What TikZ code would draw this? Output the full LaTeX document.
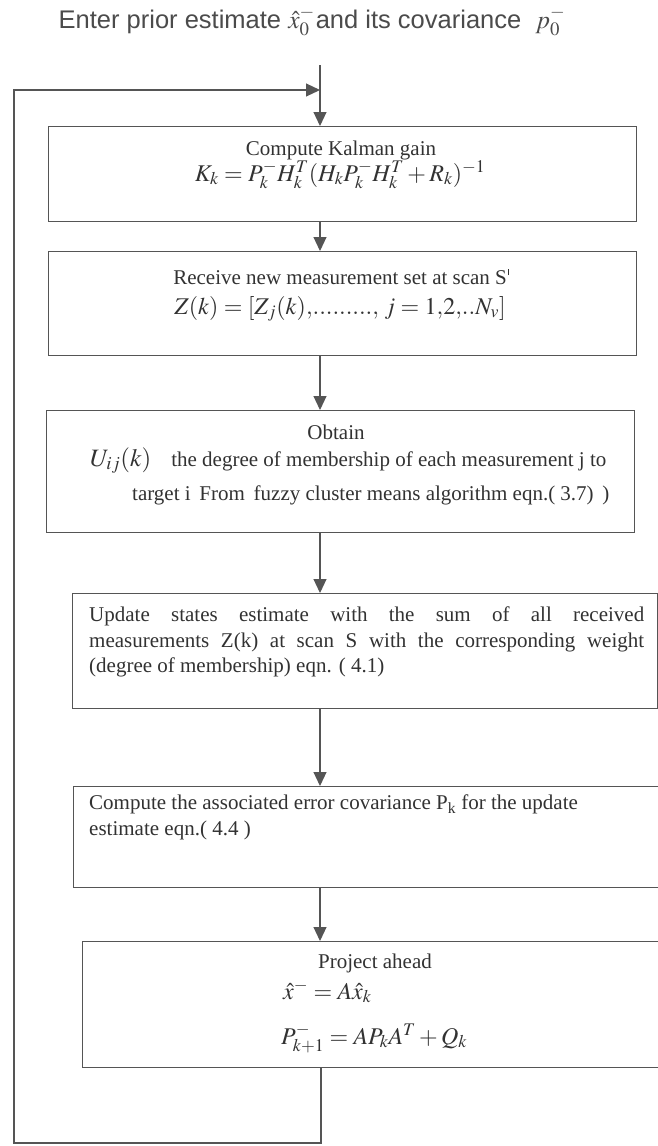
\documentclass[tikz,border=0pt]{standalone}
\usepackage{mathptmx}
\usepackage{fontspec}
\setmainfont{Liberation Serif}
\newfontfamily\arialf{Liberation Sans}
\usetikzlibrary{arrows.meta}
\definecolor{ln}{RGB}{85,85,85}
\definecolor{tx}{RGB}{50,50,50}
\definecolor{tt}{RGB}{75,75,75}
\begin{document}
\begin{tikzpicture}[x=1pt,y=-1pt,
  boxnode/.style={draw=ln,line width=1.2pt,rectangle,inner sep=0pt,anchor=north west},
  arr/.style={draw=ln,line width=1.1pt,-{Triangle[length=14pt,width=13pt]}},
  txt/.style={text=tx,inner sep=0pt,font=\fontsize{21}{25.5}\selectfont},
  mth/.style={text=tx,inner sep=0pt,font=\fontsize{24}{29}\selectfont},
  ttl/.style={text=tt,inner sep=0pt,font=\arialf\fontsize{25.5}{30}\selectfont}]
\fill[white] (0,0) rectangle (658,1146);
\useasboundingbox (0,0) rectangle (658,1146);

% title
\node[ttl,anchor=base] (title) at (312,28) {Enter prior estimate $\hat{x}_0^-$\kern1pt and its covariance\ \ $p_0^-$};

% boxes
\node[boxnode,minimum width=588pt,minimum height=95pt] (b1) at (48,126) {};
\node[boxnode,minimum width=588pt,minimum height=104pt] (b2) at (48,251) {};
\node[boxnode,minimum width=588pt,minimum height=122pt] (b3) at (46,410) {};
\node[boxnode,minimum width=585pt,minimum height=115pt] (b4) at (72,593) {};
\node[boxnode,minimum width=600pt,minimum height=101pt] (b5) at (73,786) {};
\node[boxnode,minimum width=600pt,minimum height=126pt] (b6) at (82,941) {};

% box 1
\node[txt,anchor=base] (t1a) at (341,155) {Compute Kalman gain};
\node[mth,anchor=base] (t1b) at (340,181) {$K_k = P_k^- H_k^T (H_k P_k^- H_k^T + R_k)^{-1}$};

% box 2
\node[txt,anchor=base] (t2a) at (341,284) {Receive new measurement set at scan S\kern1pt\rule[9pt]{0.8pt}{6pt}};
\node[mth,anchor=base] (t2b) at (340,314) {$Z(k) = [Z_j(k){,}.........{,}\; j = 1{,}2{,}..N_v]$};

% box 3
\node[txt,anchor=base] (t3a) at (336,439) {Obtain};
\node[txt,anchor=base west] (t3b) at (90,466) {{\fontsize{25}{30}\selectfont$U_{ij}(k)$}\hspace{20pt}the degree of membership of each measurement j to};
\node[txt,anchor=base west] (t3c) at (132,500) {target i\ \,From\ \,fuzzy cluster means algorithm eqn.( 3.7)\ \,)};

% box 4
\node[txt,anchor=north west,text width=555pt,align=justify] (t4) at (89,607)
  {Update states estimate with the sum of all received\linebreak measurements Z(k) at scan S with the corresponding weight\linebreak (degree of membership) eqn. ( 4.1)};

% box 5
\node[txt,anchor=north west,align=left] (t5) at (89,795)
  {Compute the associated error covariance P\textsubscript{k} for the update\\estimate eqn.( 4.4 )};

% box 6
\node[txt,anchor=base] (t6a) at (375,968) {Project ahead};
\node[mth,anchor=base west] (t6b) at (283,999) {$\hat{x}^- = A\hat{x}_k$};
\node[mth,anchor=base west] (t6c) at (281,1044) {$P_{k+1}^- = AP_kA^T + Q_k$};

% connectors
\coordinate (in) at (320,65);
\coordinate (loopR) at (320,90);
\coordinate (loopL) at (14,90);
\coordinate (botL) at (14,1143);
\coordinate (botR) at (321,1143);

\draw[arr] (in) -- (b1.north -| in);
\draw[arr] (b1.south -| in) -- (b2.north -| in);
\draw[arr] (b2.south -| in) -- (b3.north -| in);
\draw[arr] (b3.south -| in) -- (b4.north -| in);
\draw[arr] (b4.south -| in) -- (b5.north -| in);
\draw[arr] (b5.south -| in) -- (b6.north -| in);
\draw[arr] (b6.south -| botR) -- (botR) -- (botL) -- (loopL) -- (loopR);
\end{tikzpicture}
\end{document}
